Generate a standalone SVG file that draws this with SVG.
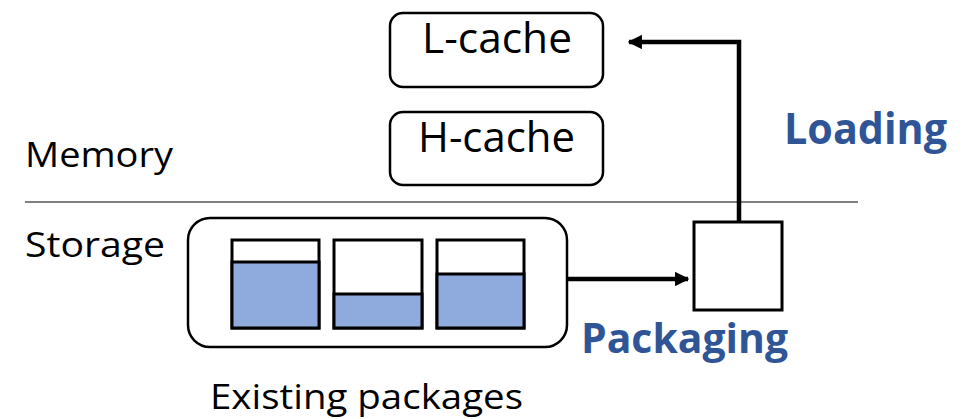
<svg xmlns="http://www.w3.org/2000/svg" width="974" height="419" viewBox="0 0 974 419">
<defs>
<style>
.t{font-family:"Open Sans","Noto Sans","Liberation Sans",sans-serif;fill:#000}
.b{font-family:"Open Sans","Noto Sans","Liberation Sans",sans-serif;font-weight:bold;fill:#2f5597}
.box{fill:#fff;stroke:#000;stroke-width:2.5}
.pkg{fill:#fff;stroke:#000;stroke-width:3}
.fill{fill:#8faadc;stroke:#000;stroke-width:3}
.conn{fill:none;stroke:#000;stroke-width:4.5}
</style>
<marker id="ah" viewBox="0 0 10 10" refX="9" refY="5" markerWidth="3.2" markerHeight="3.2" orient="auto" markerUnits="strokeWidth">
<path d="M0,0 L10,5 L0,10 z" fill="#000"/>
</marker>
</defs>
<rect width="974" height="419" fill="#fff"/>
<line x1="25" y1="202" x2="858" y2="202" stroke="#000" stroke-width="1"/>
<text class="t" x="25" y="167" font-size="35" textLength="148" lengthAdjust="spacingAndGlyphs">Memory</text>
<text class="t" x="25" y="257" font-size="35" textLength="140" lengthAdjust="spacingAndGlyphs">Storage</text>
<g id="lcache">
<rect class="box" x="390" y="13" width="213" height="74" rx="13"/>
<text class="t" x="422" y="53" font-size="42" textLength="150" lengthAdjust="spacingAndGlyphs">L-cache</text>
</g>
<g id="hcache">
<rect class="box" x="390" y="112" width="213" height="73" rx="13"/>
<text class="t" x="418" y="152" font-size="42" textLength="157" lengthAdjust="spacingAndGlyphs">H-cache</text>
</g>
<g id="existing">
<rect class="box" x="188" y="218" width="379" height="129" rx="22"/>
<rect class="pkg" x="232" y="240" width="87" height="88"/>
<rect class="fill" x="232" y="262" width="87" height="66"/>
<rect class="pkg" x="334" y="240" width="88" height="88"/>
<rect class="fill" x="334" y="294" width="88" height="34"/>
<rect class="pkg" x="437" y="240" width="87" height="88"/>
<rect class="fill" x="437" y="274" width="87" height="54"/>
<text class="t" x="210" y="409" font-size="34" textLength="313" lengthAdjust="spacingAndGlyphs">Existing packages</text>
</g>
<g id="package">
<rect class="pkg" x="694" y="222" width="88" height="88"/>
</g>
<g id="connectors">
<line class="conn" x1="567" y1="279" x2="688" y2="279" marker-end="url(#ah)"/>
<polyline class="conn" points="739,222 739,42 629,42" marker-end="url(#ah)"/>
</g>
<text class="b" x="784" y="144" font-size="43" textLength="163" lengthAdjust="spacingAndGlyphs">Loading</text>
<text class="b" x="581" y="353" font-size="42" textLength="207" lengthAdjust="spacingAndGlyphs">Packaging</text>
</svg>
